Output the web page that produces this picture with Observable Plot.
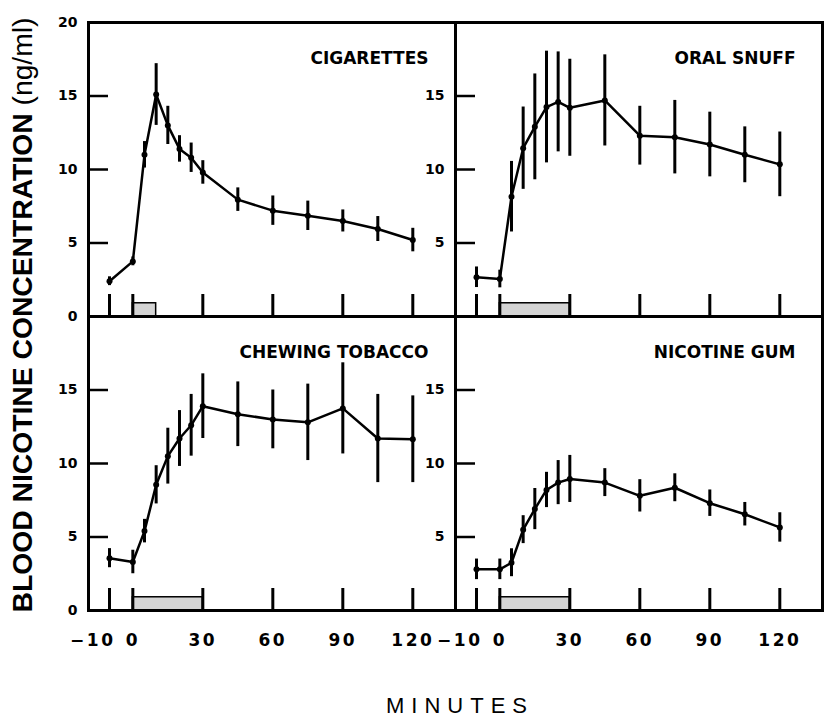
<!DOCTYPE html>
<html>
<head>
<meta charset="utf-8">
<script src="https://cdn.jsdelivr.net/npm/d3@7"></script>
<script src="https://cdn.jsdelivr.net/npm/@observablehq/plot@0.6"></script>
<style>
  body { margin: 0; background: #fff; }
  g[aria-label="panel-title"] text { letter-spacing: 2px; }
  g[aria-label="y-label"] text { letter-spacing: 1.5px; }
  g[aria-label="x-axis tick label"] text { letter-spacing: 2.5px; }
</style>
</head>
<body>
<div id="chart"></div>
<script>
// ---- data ----
const minutes = [-10, 0, 5, 10, 15, 20, 25, 30, 45, 60, 75, 90, 105, 120];
const products = ["CIGARETTES", "ORAL SNUFF", "CHEWING TOBACCO", "NICOTINE GUM"];
const panelColumn = ["left", "right", "left", "right"];
const panelRow = ["top", "top", "bottom", "bottom"];
const exposureStart = [0, 0, 0, 0];
const exposureEnd = [10, 30, 30, 30];

const cigarettesMean = [2.4, 3.75, 11.0, 15.1, 13.0, 11.4, 10.8, 9.8, 7.95, 7.2, 6.85, 6.5, 5.95, 5.2];
const cigarettesErr  = [0.3, 0.3, 0.9, 2.1, 1.3, 0.9, 1.0, 0.8, 0.8, 1.0, 1.0, 0.75, 0.85, 0.8];
const oralSnuffMean  = [2.67, 2.55, 8.15, 11.45, 12.9, 14.25, 14.6, 14.2, 14.7, 12.3, 12.2, 11.7, 11.0, 10.35];
const oralSnuffErr   = [0.7, 0.6, 2.4, 2.8, 3.6, 3.8, 3.4, 3.3, 3.1, 2.0, 2.5, 2.2, 1.9, 2.2];
const chewingMean    = [3.56, 3.3, 5.4, 8.55, 10.5, 11.7, 12.6, 13.9, 13.35, 13.0, 12.8, 13.75, 11.7, 11.65];
const chewingErr     = [0.65, 0.8, 0.8, 1.3, 1.9, 1.9, 2.1, 2.2, 2.2, 2.0, 2.6, 3.1, 3.0, 2.95];
const gumMean        = [2.8, 2.8, 3.25, 5.5, 6.9, 8.2, 8.7, 8.95, 8.7, 7.8, 8.35, 7.3, 6.55, 5.65];
const gumErr         = [0.7, 0.7, 0.95, 0.95, 1.4, 1.2, 1.5, 1.6, 0.95, 1.1, 0.95, 0.9, 0.8, 1.0];

const xTickMarks = [-10, 0, 30, 60, 90, 120];
const xTickLabels = [0, 30, 60, 90, 120];
const xTickLabelsNegative = [-10];
const yTickMarks = [5, 10, 15];
const yTickLabelsLeftTop = [0, 5, 10, 15, 20];
const yTickLabelsLeftBottom = [0, 5, 10, 15];
const yTickLabelsRight = [5, 10, 15];

const yTitleMain = "BLOOD NICOTINE CONCENTRATION";
const yTitleUnit = " (ng/ml)";
const xTitle = "MINUTES";

// ---- tables built from the arrays ----
const means = [cigarettesMean, oralSnuffMean, chewingMean, gumMean];
const errs = [cigarettesErr, oralSnuffErr, chewingErr, gumErr];

const panels = products.map((name, i) => ({
  name, col: panelColumn[i], row: panelRow[i], start: exposureStart[i], end: exposureEnd[i]
}));

const points = products.flatMap((name, i) => minutes.map((t, j) => ({
  name, col: panelColumn[i], row: panelRow[i], t, mean: means[i][j], err: errs[i][j]
})));

const yLabelRows = [
  ...yTickLabelsLeftTop.map(v => ({col: "left", row: "top", v})),
  ...yTickLabelsLeftBottom.map(v => ({col: "left", row: "bottom", v})),
  ...yTickLabelsRight.map(v => ({col: "right", row: "top", v})),
  ...yTickLabelsRight.map(v => ({col: "right", row: "bottom", v}))
];

const chart = Plot.plot({
  width: 825,
  height: 718,
  marginLeft: 87,
  marginRight: 3,
  marginTop: 21,
  marginBottom: 108,
  style: {fontFamily: "DejaVu Sans", background: "white", color: "black"},
  fx: {domain: ["left", "right"], padding: 0, axis: null},
  fy: {domain: ["top", "bottom"], padding: 0, axis: null},
  x: {domain: [-19, 138.3]},
  y: {domain: [0, 20]},
  marks: [
    Plot.rect(panels, {fx: "col", fy: "row", x1: "start", x2: "end", y1: 0, y2: 0.9,
      fill: "#d4d4d4", stroke: "black", strokeWidth: 1.5}),
    Plot.axisX(xTickMarks, {tickSize: -22, fill: "none", strokeWidth: 3, facetAnchor: null, label: null}),
    Plot.axisY(yTickMarks, {tickSize: -20, fill: "none", strokeWidth: 2.5, facetAnchor: null, label: null}),
    Plot.axisX(xTickLabels, {tickSize: 0, tickPadding: 23, stroke: "none", fontSize: 17,
      fontWeight: "bold", label: null}),
    Plot.axisX(xTickLabelsNegative, {tickSize: 0, tickPadding: 23, stroke: "none", fontSize: 17,
      fontWeight: "bold", textAnchor: "end", dx: 6, label: null}),
    Plot.text(yLabelRows, {fx: "col", fy: "row", y: "v", text: d => String(d.v),
      frameAnchor: "left", textAnchor: "end", dx: -11, fontSize: 14, fontWeight: "bold",
      ariaLabel: "y-label"}),
    Plot.ruleX(points, {fx: "col", fy: "row", x: "t", y1: d => d.mean - d.err, y2: d => d.mean + d.err,
      strokeWidth: 3}),
    Plot.line(points, {fx: "col", fy: "row", x: "t", y: "mean", strokeWidth: 2.5}),
    Plot.dot(points, {fx: "col", fy: "row", x: "t", y: "mean", r: 3, fill: "black"}),
    Plot.text(panels, {fx: "col", fy: "row", text: "name", frameAnchor: "top-right",
      lineAnchor: "top", dx: -27, dy: 29, fontSize: 17, fontWeight: "bold", ariaLabel: "panel-title"}),
    Plot.frame({strokeWidth: 3})
  ]
});

document.getElementById("chart").appendChild(chart);

const svg = d3.select(chart);
const yt = svg.append("text")
  .attr("transform", "translate(23,315) rotate(-90)")
  .attr("text-anchor", "middle")
  .attr("dominant-baseline", "central")
  .attr("font-family", "Liberation Sans")
  .attr("font-size", 27)
  .attr("fill", "black");
yt.append("tspan").attr("font-weight", "bold").text(yTitleMain);
yt.append("tspan").attr("font-weight", "normal").text(yTitleUnit);
yt.attr("textLength", 595).attr("lengthAdjust", "spacingAndGlyphs");

svg.append("text")
  .attr("x", 460)
  .attr("y", 713)
  .attr("text-anchor", "middle")
  .attr("font-family", "Liberation Sans")
  .attr("font-size", 22)
  .attr("letter-spacing", "7px")
  .attr("fill", "black")
  .text(xTitle);
</script>
</body>
</html>
